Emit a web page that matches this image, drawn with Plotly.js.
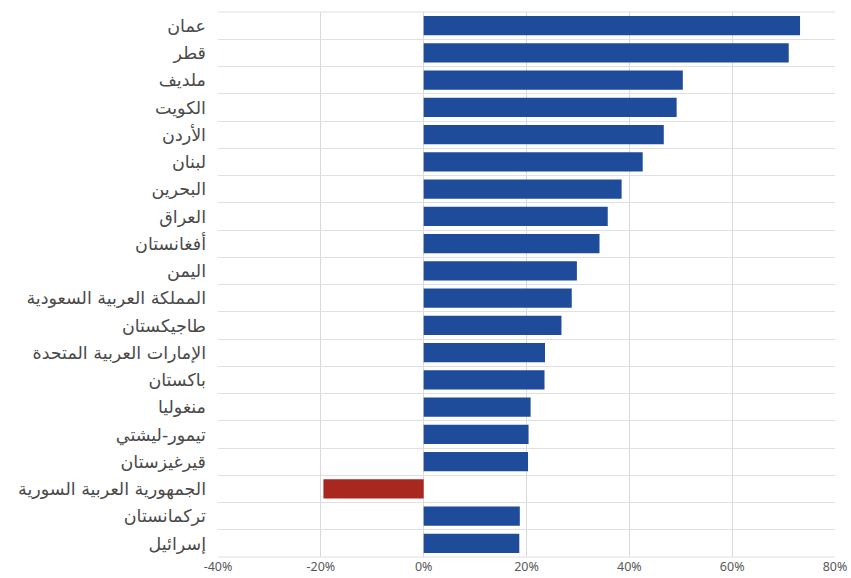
<!DOCTYPE html>
<html>
<head>
<meta charset="utf-8">
<script src="https://cdn.plot.ly/plotly-3.0.1.min.js"></script>
<style>html,body{margin:0;padding:0;background:#fff;}#chart{width:851px;height:578px;}</style>
</head>
<body>
<div id="chart"></div>
<script>
const countries = ["عمان","قطر","ملديف","الكويت","الأردن","لبنان","البحرين","العراق","أفغانستان","اليمن","المملكة العربية السعودية","طاجيكستان","الإمارات العربية المتحدة","باكستان","منغوليا","تيمور-ليشتي","قيرغيزستان","الجمهورية العربية السورية","تركمانستان","إسرائيل"];
const values = [73.2, 71.0, 50.4, 49.2, 46.7, 42.6, 38.5, 35.8, 34.2, 29.8, 28.8, 26.8, 23.6, 23.5, 20.8, 20.4, 20.3, -19.5, 18.7, 18.6];
const tickVals = [-40, -20, 0, 20, 40, 60, 80];
const tickText = ["-40%","-20%","0%","20%","40%","60%","80%"];

const colors = values.map(v => v < 0 ? "#a8271f" : "#1f4b9b");

Plotly.newPlot("chart", [{
  type: "bar",
  orientation: "h",
  x: values,
  y: countries,
  marker: {color: colors},
  hoverinfo: "x+y"
}], {
  width: 851, height: 578,
  margin: {l: 218, r: 16, t: 12, b: 21},
  paper_bgcolor: "#fff", plot_bgcolor: "#fff",
  showlegend: false,
  bargap: 0.3,
  font: {family: "DejaVu Sans, Noto Sans, sans-serif", color: "#404040"},
  xaxis: {
    range: [-40, 80],
    tickvals: tickVals, ticktext: tickText,
    showgrid: true, gridcolor: "#d9d9d9", gridwidth: 1,
    zeroline: false, showline: false,
    tickfont: {family: "Noto Sans, sans-serif", size: 12.5, color: "#595959"},
    ticks: ""
  },
  yaxis: {
    type: "category",
    autorange: "reversed",
    tickson: "boundaries",
    showgrid: true, gridcolor: "#e0e0e0", gridwidth: 1,
    ticks: "", ticklen: 0,
    ticklabelstandoff: 11,
    tickfont: {size: 17.5, color: "#4a4a4a"},
    showline: false, zeroline: false
  },
  shapes: [
    {type: "line", xref: "paper", yref: "paper", x0: 0, x1: 1, y0: 1, y1: 1, line: {color: "#e0e0e0", width: 1}},
    {type: "line", xref: "paper", yref: "paper", x0: 0, x1: 1, y0: 0, y1: 0, line: {color: "#e0e0e0", width: 1}}
  ]
}, {displayModeBar: false});
</script>
</body>
</html>
